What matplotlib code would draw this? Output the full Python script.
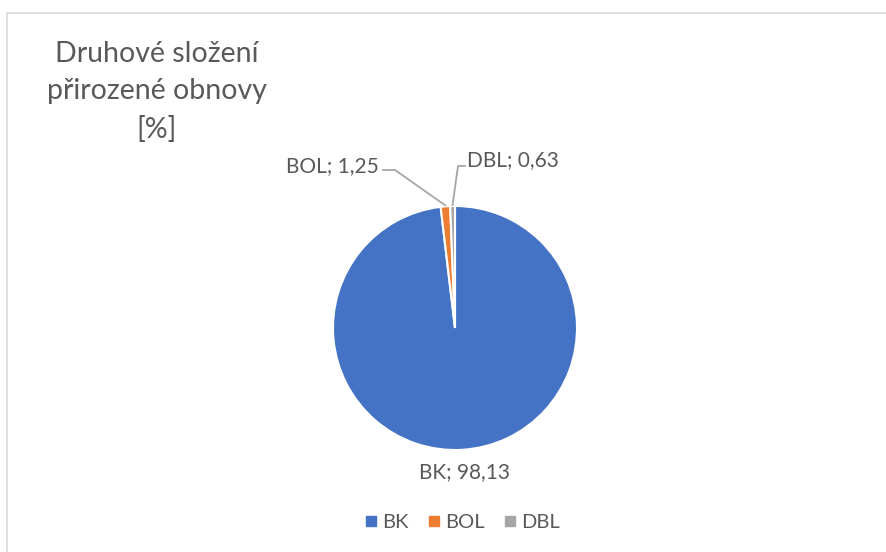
import numpy as np
import matplotlib
matplotlib.use("Agg")
import matplotlib.pyplot as plt
from matplotlib.patches import Rectangle
from matplotlib.lines import Line2D

categories = ["BK", "BOL", "DBL"]
values = [98.13, 1.25, 0.63]
value_labels = ["98,13", "1,25", "0,63"]
colors = ["#4472C4", "#ED7D31", "#A5A5A5"]
title = "Druhové složení\npřirozené obnovy\n[%]"

W, H = 887, 552
plt.rcParams['font.family'] = ['Lato', 'DejaVu Sans']
TXT = "#595959"

fig = plt.figure(figsize=(W / 100, H / 100), dpi=100)
ax = fig.add_axes([0, 0, 1, 1])

cx, cy, r = 455, H - 328, 122
wedges, _ = ax.pie(values, colors=colors, startangle=90, counterclock=False,
                   center=(cx, cy), radius=r, frame=True,
                   wedgeprops=dict(edgecolor="white", linewidth=1.5))
ax.set_xlim(0, W)
ax.set_ylim(0, H)
ax.axis("off")

# frame (top & left edges visible)
ax.add_patch(Rectangle((7, -10), W + 20, H - 13 + 10, fill=False,
                       edgecolor="#D9D9D9", linewidth=1.2))

def edge_point(w, rr=r):
    mid = np.deg2rad((w.theta1 + w.theta2) / 2)
    return cx + rr * np.cos(mid), cy + rr * np.sin(mid)

fs = 15
# BK label
ax.text(cx + 10, H - 472, f"{categories[0]}; {value_labels[0]}", ha="center", va="center",
        fontsize=fs, color=TXT)
# BOL label
ax.text(379, H - 166, f"{categories[1]}; {value_labels[1]}", ha="right", va="center",
        fontsize=fs, color=TXT)
px, py = edge_point(wedges[1], r + 1)
ax.add_line(Line2D([383, 395, px], [H - 170, H - 170, py], color="#A6A6A6", lw=1.3))
# DBL label
ax.text(467, H - 160, f"{categories[2]}; {value_labels[2]}", ha="left", va="center",
        fontsize=fs, color=TXT)
px, py = edge_point(wedges[2], r + 1)
ax.add_line(Line2D([465, 458, px], [H - 166, H - 166, py], color="#A6A6A6", lw=1.3))

# title
fig.text(157 / W, 1 - 92 / H, title, ha="center", va="center", fontsize=20.5,
         color=TXT, linespacing=1.52)

# legend
handles = [Line2D([], [], marker="s", linestyle="none", markersize=7,
                  markerfacecolor=c, markeredgecolor=c) for c in colors]
fig.legend(handles, categories, loc="center", bbox_to_anchor=(461 / W, 1 - 522 / H),
           ncol=3, frameon=False, fontsize=14.5, labelcolor=TXT,
           handletextpad=0.1, columnspacing=0.8, handlelength=0.9)

fig.savefig("out.png", dpi=100)
